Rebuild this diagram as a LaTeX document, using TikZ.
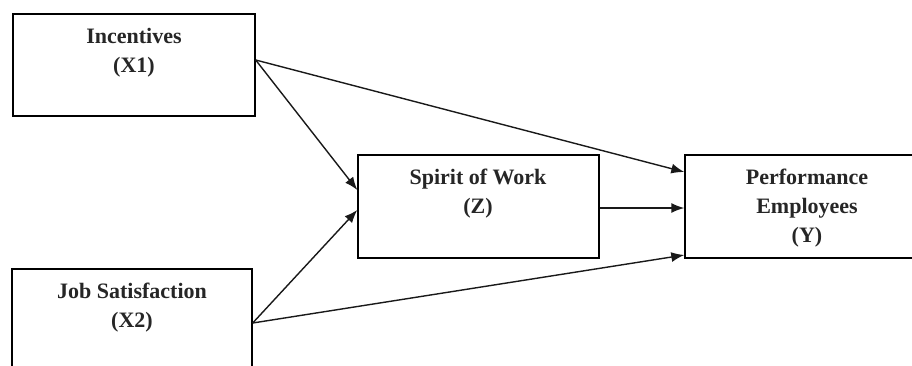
\documentclass[tikz,border=0pt]{standalone}
\usepackage{fontspec}
\setmainfont{Liberation Serif}
\usetikzlibrary{arrows.meta}
\begin{document}
\begin{tikzpicture}[x=1pt,y=-1pt,
  box/.style={draw=black,line width=1.4pt,rectangle,inner sep=0pt},
  lbl/.style={align=center,font=\fontsize{22}{29}\selectfont\bfseries,inner sep=0pt,text=black!85},
  arr/.style={draw=black!90,line width=1.4pt,-{Latex[length=13pt,width=10pt]}}]
\useasboundingbox (0,0) rectangle (912,365);
\clip (0,0) rectangle (912,365);
\fill[white] (0,0) rectangle (912,365);
\node[box,minimum width=242pt,minimum height=102pt] (inc) at (134,65) {};
\node[box,minimum width=240pt,minimum height=102pt] (job) at (132,320) {};
\node[box,minimum width=241pt,minimum height=103pt] (spi) at (478.5,206.5) {};
\node[box,minimum width=244pt,minimum height=103pt] (per) at (807,206.5) {};
\node[lbl] (tinc) at (134,53) {Incentives\\(X1)};
\node[lbl] (tjob) at (132,308) {Job Satisfaction\\(X2)};
\node[lbl] (tspi) at (478,194) {Spirit of Work\\(Z)};
\node[lbl] (tper) at (807,208) {Performance\\Employees\\(Y)};
\draw[arr] ([yshift=5pt]inc.east) -- ([yshift=34.5pt]per.west);
\draw[arr] ([yshift=5pt]inc.east) -- ([yshift=16.5pt]spi.west);
\draw[arr] ([yshift=-3pt]job.east) -- ([yshift=-3.5pt]spi.west);
\draw[arr] ([yshift=-3pt]job.east) -- ([yshift=-48.5pt]per.west);
\draw[arr] ([yshift=-1.5pt]spi.east) -- ([yshift=-1.5pt]per.west);
\end{tikzpicture}
\end{document}
